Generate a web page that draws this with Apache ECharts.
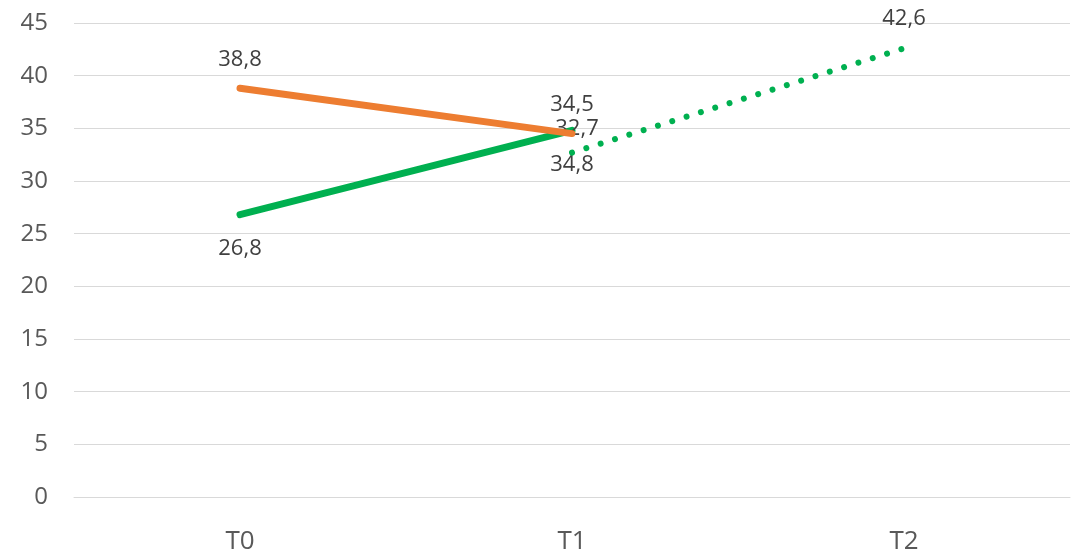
<!DOCTYPE html>
<html>
<head>
<meta charset="utf-8">
<script src="https://cdn.jsdelivr.net/npm/echarts@6/dist/echarts.min.js"></script>
<style>
  html, body { margin: 0; padding: 0; background: #ffffff; }
  #chart { width: 1077px; height: 555px; }
</style>
</head>
<body>
<div id="chart"></div>
<script>
// Time points and measured values per series
const categories = ['T0', 'T1', 'T2'];
const orangeValues = [38.8, 34.5, null];
const greenValues = [26.8, 34.8, null];
const greenDottedValues = [null, 32.7, 42.6];
const yTicks = { min: 0, max: 45, interval: 5 };

const FONT = '"Open Sans", "Noto Sans", sans-serif';
const commaFmt = p => (p.value == null ? '' : String(p.value).replace('.', ','));

function labelCfg(position, distance) {
  return {
    show: true,
    position: position,
    distance: distance,
    formatter: commaFmt,
    fontFamily: FONT,
    fontSize: 22,
    color: '#404040'
  };
}

// per-point label tweaks for the dotted segment
const dottedData = greenDottedValues.map((v, i) => {
  if (i === 1) return { value: v, label: { offset: [5, 0] } };
  if (i === 2) return { value: v, label: { distance: 19 } };
  return v;
});

const chart = echarts.init(document.getElementById('chart'), null, { renderer: 'canvas' });
chart.setOption({
  animation: false,
  backgroundColor: '#ffffff',
  grid: { left: 74, right: 7, top: 23, bottom: 56, containLabel: false },
  xAxis: {
    type: 'category',
    data: categories,
    boundaryGap: true,
    axisLine: { show: true, lineStyle: { color: '#d9d9d9', width: 1 } },
    axisTick: { show: false },
    axisLabel: { fontFamily: FONT, fontSize: 26, color: '#595959', margin: 32 }
  },
  yAxis: {
    type: 'value',
    min: yTicks.min,
    max: yTicks.max,
    interval: yTicks.interval,
    axisLine: { show: false },
    axisTick: { show: false },
    splitLine: { lineStyle: { color: '#d9d9d9', width: 1 } },
    axisLabel: { fontFamily: FONT, fontSize: 24, color: '#595959', margin: 26 }
  },
  series: [
    {
      name: 'green',
      type: 'line',
      data: greenValues,
      symbol: 'circle',
      symbolSize: 0,
      showSymbol: true,
      lineStyle: { color: '#00b050', width: 7, cap: 'round' },
      itemStyle: { color: '#00b050' },
      label: labelCfg('bottom', 23),
      z: 2
    },
    {
      name: 'green dotted',
      type: 'line',
      data: dottedData,
      symbol: 'circle',
      symbolSize: 0,
      showSymbol: true,
      lineStyle: { color: '#00b050', width: 6, cap: 'round', type: [0.01, 15] },
      itemStyle: { color: '#00b050' },
      label: labelCfg('top', 13),
      z: 3
    },
    {
      name: 'orange',
      type: 'line',
      data: orangeValues,
      symbol: 'circle',
      symbolSize: 0,
      showSymbol: true,
      lineStyle: { color: '#ed7d31', width: 7, cap: 'round' },
      itemStyle: { color: '#ed7d31' },
      label: labelCfg('top', 18),
      z: 4
    }
  ]
});
</script>
</body>
</html>
